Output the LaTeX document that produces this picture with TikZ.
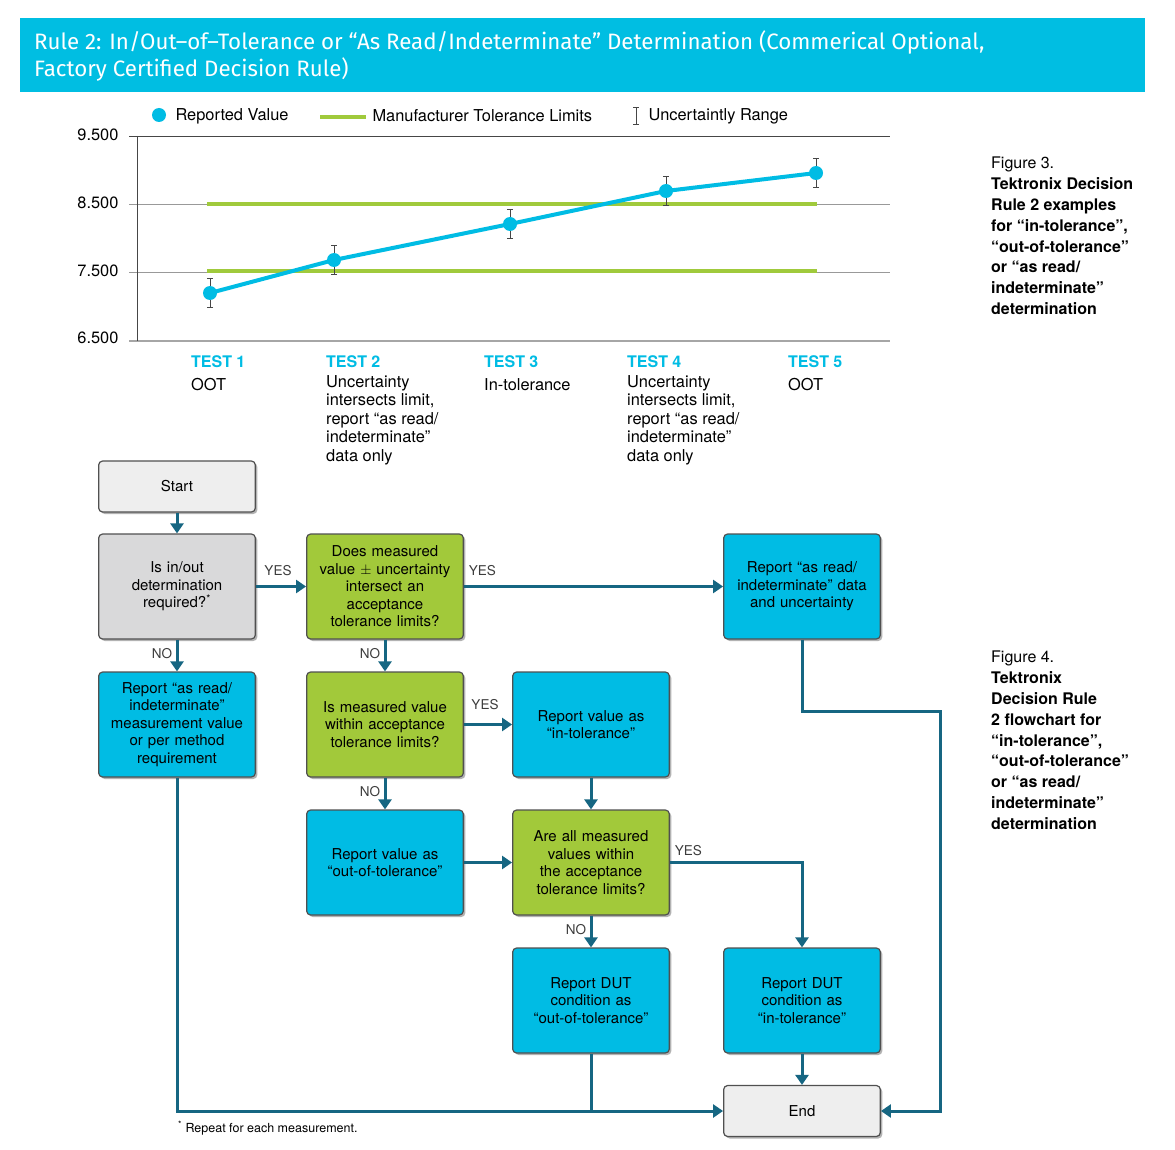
\documentclass[tikz,border=0pt]{standalone}
\usepackage{fontspec}
\setmainfont{TeX Gyre Heros}
\newfontfamily\titlefont{Fira Sans}
\usetikzlibrary{arrows.meta, positioning, shadows}
\definecolor{headcyan}{RGB}{0,190,226}
\definecolor{boxcyan}{RGB}{0,188,228}
\definecolor{boxgreen}{RGB}{162,201,58}
\definecolor{boxgray}{RGB}{217,217,218}
\definecolor{boxlight}{RGB}{238,238,238}
\definecolor{flowteal}{RGB}{22,102,130}
\definecolor{limitgreen}{RGB}{160,202,60}
\definecolor{edgegray}{RGB}{80,80,80}
\definecolor{labelgray}{RGB}{60,60,60}
\definecolor{gridgray}{RGB}{70,70,70}
\tikzset{
    flowbox/.style={rectangle, rounded corners=4pt, minimum width=156pt, minimum height=105pt, draw=edgegray, line width=1.2pt, text width=150pt, align=center, font=\fontsize{15}{17.5}\selectfont, drop shadow={shadow xshift=2pt, shadow yshift=-2pt, opacity=0.3, fill=black}},
    decision/.style={flowbox, fill=boxgreen},
    report/.style={flowbox, fill=boxcyan},
    terminal/.style={flowbox, fill=boxlight, minimum height=51pt},
    flow/.style={-{Triangle[length=10pt, width=13pt]}, line width=3pt, flowteal},
    joinline/.style={line width=3pt, flowteal},
    answer/.style={font=\fontsize{13.5}{13.5}\selectfont, text=labelgray},
    charttext/.style={font=\fontsize{16.4}{18.5}\selectfont, align=left},
}

\begin{document}
\begin{tikzpicture}[
    x=1pt, y=-1pt,
    grid/.style={gridgray, line width=0.8pt},
    limit/.style={limitgreen, line width=4pt},
    valueline/.style={boxcyan, line width=4pt, line join=round},
    errbar/.style={{Bar[width=6pt]}-{Bar[width=6pt]}, gridgray, line width=0.9pt},
    testhead/.style={charttext, font=\fontsize{16}{18.5}\selectfont\bfseries, text=boxcyan}
]
\useasboundingbox[fill=white] (0,0) rectangle (1175,1150);

% Header
\fill[headcyan] (20,18) rectangle (1145,92);
\node[anchor=north west, align=left, text=white, font=\titlefont\fontsize{22.3}{27.5}\selectfont, inner sep=0pt] (title) at (34,30)
    {Rule 2: In/Out–of–Tolerance or “As Read/Indeterminate” Determination (Commerical Optional,\\Factory Certified Decision Rule)};

% Legend
\fill[boxcyan] (159,115) circle (7pt);
\node[charttext, anchor=west] (leg-value) at (172,116) {Reported Value};
\draw[limit] (320,117) -- (366,117);
\node[charttext, anchor=west] (leg-limit) at (369,116) {Manufacturer Tolerance Limits};
\draw[errbar] (636,107) -- (636,125);
\node[charttext, anchor=west] (leg-range) at (645,116) {Uncertaintly Range};

% Chart grid
\draw[grid] (129,136) -- (890,136);
\draw[grid, gray!80, line width=0.6pt] (129,204) -- (890,204);
\draw[grid, gray!80, line width=0.6pt] (129,272) -- (890,272);
\draw[gray!70, line width=2pt] (129,341) -- (890,341);
\draw[grid] (137,136) -- (137,341);
\foreach \yv/\lab in {136/9.500, 204/8.500, 272/7.500, 339/6.500}
    \node[charttext, anchor=east] at (122,\yv-1) {\lab};

% Tolerance limits
\draw[limit] (207,204) -- (817,204);
\draw[limit] (207,271) -- (817,271);

% Reported values
\draw[valueline] (210,293) -- (334,260) -- (510,224) -- (666,191) -- (816,173);
\foreach \px/\py in {210/293, 334/260, 510/224, 666/191, 816/173} {
    \draw[errbar] (\px,\py-15) -- (\px,\py+15);
    \fill[boxcyan] (\px,\py) circle (7pt);
}

% Test labels
\foreach \px/\num/\ty/\desc in {191/1/378/{OOT}, 326/2/375/{Uncertainty\\intersects limit,\\report “as read/\\indeterminate”\\data only}, 484/3/378/{In-tolerance}, 627/4/375/{Uncertainty\\intersects limit,\\report “as read/\\indeterminate”\\data only}, 788/5/378/{OOT}} {
    \node[testhead, anchor=base west, inner sep=0pt] at (\px,367) {TEST \num};
    \node[charttext, anchor=north west, inner sep=0pt] at (\px,\ty) {\desc};
}

% Figure captions
\node[charttext, anchor=north west, inner sep=0pt, font=\fontsize{16}{20.8}\selectfont] (fig3) at (991,157)
    {Figure 3.\\\textbf{Tektronix Decision}\\\textbf{Rule 2 examples}\\\textbf{for “in-tolerance”,}\\\textbf{“out-of-tolerance”}\\\textbf{or “as read/}\\\textbf{indeterminate”}\\\textbf{determination}};
\node[charttext, anchor=north west, inner sep=0pt, font=\fontsize{16}{20.8}\selectfont] (fig4) at (991,651)
    {Figure 4.\\\textbf{Tektronix}\\\textbf{Decision Rule}\\\textbf{2 flowchart for}\\\textbf{“in-tolerance”,}\\\textbf{“out-of-tolerance”}\\\textbf{or “as read/}\\\textbf{indeterminate”}\\\textbf{determination}};

% Flowchart boxes
\node[terminal] (start) at (177,486.5) {Start};
\node[flowbox, fill=boxgray] (q-inout) at (177,586.5) {Is in/out\\determination\\required?\textsuperscript{*}};
\node[decision] (q-intersect) at (385,586.5) {Does measured\\value $\pm$ uncertainty\\intersect an\\acceptance\\tolerance limits?};
\node[report] (r-asread) at (802,586.5) {Report “as read/\\indeterminate” data\\and uncertainty};
\node[report] (r-asread-meas) at (177,724.5) {Report “as read/\\indeterminate”\\measurement value\\or per method\\requirement};
\node[decision] (q-within) at (385,724.5) {Is measured value\\within acceptance\\tolerance limits?};
\node[report] (r-intol) at (591,724.5) {Report value as\\“in-tolerance”};
\node[report] (r-oot) at (385,862.5) {Report value as\\“out-of-tolerance”};
\node[decision] (q-all) at (591,862.5) {Are all measured\\values within\\the acceptance\\tolerance limits?};
\node[report] (r-dut-oot) at (591,1000.5) {Report DUT\\condition as\\“out-of-tolerance”};
\node[report] (r-dut-intol) at (802,1000.5) {Report DUT\\condition as\\“in-tolerance”};
\node[terminal] (finish) at (802,1111) {End};

% Connectors
\draw[flow] (start) -- (q-inout);
\draw[flow] (q-inout) -- node[answer, above=6pt, xshift=-3pt] {YES} (q-intersect);
\draw[flow] (q-inout) -- node[answer, left, yshift=2pt] {NO} (r-asread-meas);
\draw[flow] (q-intersect) -- node[answer, pos=0, above right=6pt and 0pt] {YES} (r-asread);
\draw[flow] (q-intersect) -- node[answer, left, yshift=2pt] {NO} (q-within);
\draw[flow] (q-within) -- node[answer, above=10pt, xshift=-3pt] {YES} (r-intol);
\draw[flow] (q-within) -- node[answer, left, yshift=2pt] {NO} (r-oot);
\draw[flow] (r-intol) -- (q-all);
\draw[flow] (r-oot) -- (q-all);
\draw[flow] (q-all.east) -- node[answer, pos=0.05, above right=2pt and 0pt] {YES} ++(0,0) -| (r-dut-intol.north);
\draw[flow] (q-all) -- node[answer, left, yshift=2pt] {NO} (r-dut-oot);
\draw[flow] (r-dut-intol) -- (finish);
\draw[flow] (r-asread-meas.south) |- (finish.west);
\draw[joinline] (r-dut-oot.south) -- (r-dut-oot.south |- finish.west);
\coordinate (r1-turn) at (940,711);
\draw[flow] (r-asread.south) |- (r1-turn) |- (finish.east);

% Footnote
\node[anchor=base west, inner sep=0pt, font=\fontsize{12.5}{12.5}\selectfont] (note) at (178,1132) {\textsuperscript{*} Repeat for each measurement.};

\end{tikzpicture}
\end{document}
